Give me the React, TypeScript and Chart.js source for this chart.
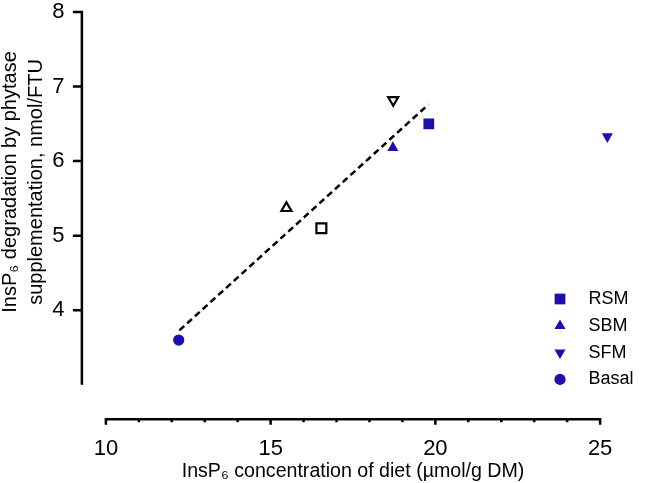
import React, { useEffect, useRef } from 'react';
import { Chart, registerables } from 'chart.js';

Chart.register(...registerables);

// ---------- data ----------
const GROUPS = ['RSM', 'SBM', 'SFM', 'Basal'];
const GROUP_DIET_INSP6 = [19.8, 18.71, 25.22, 12.21];
const GROUP_DEGRADATION = [6.5, 6.18, 6.33, 3.6];

const OPEN_GROUPS = ['RSM (open)', 'SBM (open)', 'SFM (open)'];
const OPEN_DIET_INSP6 = [16.54, 15.48, 18.72];
const OPEN_DEGRADATION = [5.1, 5.37, 6.82];

const FIT_X = [12.23, 19.79];
const FIT_Y = [3.73, 6.76];

const X_TICKS = [10, 11, 12, 13, 14, 15, 16, 17, 18, 19, 20, 21, 22, 23, 24, 25];
const X_LABELED = [10, 15, 20, 25];
const Y_TICKS = [4, 5, 6, 7, 8];

// ---------- style ----------
const FONT = "'Liberation Sans', Arial, Helvetica, sans-serif";
const BLUE = '#1d0fae';
const MARKER_STYLE = ['rect', 'triangle', 'triangle', 'circle'];
const MARKER_ROT = [0, 0, 180, 0];
const MARKER_R = [7.6, 6.4, 6.4, 5.6];

const X_MIN = 10;
const X_MAX = 25;
const X_VIEW_MIN = 9.7;
const X_VIEW_MAX = 25.3;
const Y_AXIS_MIN = 3;
const Y_AXIS_MAX = 8;
const Y_VIEW_MIN = 3.44;
const Y_AXIS_GAP = 24;
const X_AXIS_GAP = 34.5;
const AXIS_W = 2.5;
const Y_TICK_LEN = 9;
const X_MAJOR_LEN = 5.5;
const X_MINOR_LEN = 3;

function drawMarker(ctx: CanvasRenderingContext2D, style: string, rot: number, x: number, y: number, r: number) {
  ctx.beginPath();
  if (style === 'rect') {
    const s = r * Math.SQRT1_2;
    ctx.rect(x - s, y - s, 2 * s, 2 * s);
  } else if (style === 'circle') {
    ctx.arc(x, y, r, 0, Math.PI * 2);
  } else {
    let rad = (rot * Math.PI) / 180;
    for (let i = 0; i < 3; i++) {
      const px = x + Math.sin(rad) * r;
      const py = y - Math.cos(rad) * r;
      if (i === 0) ctx.moveTo(px, py);
      else ctx.lineTo(px, py);
      rad += (2 * Math.PI) / 3;
    }
    ctx.closePath();
  }
  ctx.fill();
}

const axesPlugin = {
  id: 'prismAxes',
  afterDraw(chart: any) {
    const { ctx, scales } = chart;
    const xs = scales.x;
    const ys = scales.y;
    const x0 = xs.getPixelForValue(X_MIN);
    const x1 = xs.getPixelForValue(X_MAX);
    const yAxisX = x0 - Y_AXIS_GAP;
    const yTop = ys.getPixelForValue(Y_AXIS_MAX);
    const yBot = ys.getPixelForValue(Y_AXIS_MIN);
    const xAxisY = yBot + X_AXIS_GAP;
    ctx.save();
    ctx.strokeStyle = '#000';
    ctx.lineWidth = AXIS_W;
    ctx.lineCap = 'butt';
    ctx.beginPath();
    ctx.moveTo(yAxisX, yTop - AXIS_W / 2);
    ctx.lineTo(yAxisX, yBot);
    Y_TICKS.forEach((v) => {
      const p = ys.getPixelForValue(v);
      ctx.moveTo(yAxisX + AXIS_W / 2, p);
      ctx.lineTo(yAxisX - Y_TICK_LEN, p);
    });
    ctx.moveTo(x0 - AXIS_W / 2, xAxisY);
    ctx.lineTo(x1 + AXIS_W / 2, xAxisY);
    X_TICKS.forEach((v) => {
      const p = xs.getPixelForValue(v);
      ctx.moveTo(p, xAxisY - AXIS_W / 2);
      ctx.lineTo(p, xAxisY + (X_LABELED.includes(v) ? X_MAJOR_LEN : X_MINOR_LEN));
    });
    ctx.stroke();
    ctx.restore();
  },
};

const LEGEND_MARKER_X = 560;
const LEGEND_TEXT_X = 588.5;
const LEGEND_TOP = 299;
const LEGEND_STEP = 26.8;

const legendPlugin = {
  id: 'prismLegend',
  afterDraw(chart: any) {
    const { ctx } = chart;
    ctx.save();
    ctx.font = `18px ${FONT}`;
    ctx.textBaseline = 'middle';
    ctx.textAlign = 'left';
    GROUPS.forEach((g, i) => {
      const y = LEGEND_TOP + i * LEGEND_STEP;
      ctx.fillStyle = BLUE;
      drawMarker(ctx, MARKER_STYLE[i], MARKER_ROT[i], LEGEND_MARKER_X, y, MARKER_R[i]);
      ctx.fillStyle = '#000';
      ctx.fillText(g, LEGEND_TEXT_X, y);
    });
    ctx.restore();
  },
};

function resetPadding(s: any) {
  s.paddingTop = 0;
  s.paddingBottom = 0;
  s.paddingLeft = 0;
  s.paddingRight = 0;
}

export default function App() {
  const ref = useRef<HTMLCanvasElement>(null);
  useEffect(() => {
    if (!ref.current) return;
    Chart.defaults.color = '#000';
    Chart.defaults.font.family = FONT;

    const filled = GROUPS.map((g, i) => ({
      label: g,
      data: [{ x: GROUP_DIET_INSP6[i], y: GROUP_DEGRADATION[i] }],
      pointStyle: MARKER_STYLE[i],
      pointRotation: MARKER_ROT[i],
      pointRadius: MARKER_R[i],
      backgroundColor: BLUE,
      borderColor: BLUE,
      borderWidth: 0,
      clip: false,
      order: 1,
    }));
    const open = OPEN_GROUPS.map((g, i) => ({
      label: g,
      data: [{ x: OPEN_DIET_INSP6[i], y: OPEN_DEGRADATION[i] }],
      pointStyle: MARKER_STYLE[i],
      pointRotation: MARKER_ROT[i],
      pointRadius: MARKER_R[i] - 0.6,
      backgroundColor: '#fff',
      borderColor: '#000',
      borderWidth: 2.2,
      clip: false,
      order: 1,
    }));
    const fit = {
      type: 'line' as const,
      label: 'Linear fit',
      data: FIT_X.map((x, i) => ({ x, y: FIT_Y[i] })),
      borderColor: '#000',
      borderWidth: 2.5,
      borderDash: [6.5, 4],
      pointRadius: 0,
      fill: false,
      showLine: true,
      clip: false,
      order: 2,
    };

    const chart = new Chart(ref.current, {
      type: 'scatter',
      data: { datasets: [...filled, ...open, fit] as any },
      options: {
        responsive: false,
        animation: false,
        devicePixelRatio: 1,
        layout: { padding: { top: 12, right: 47, left: 0, bottom: 0 } },
        plugins: { legend: { display: false }, tooltip: { enabled: false } },
        scales: {
          x: {
            type: 'linear',
            bounds: 'data',
            afterDataLimits: (s: any) => {
              s.min = X_VIEW_MIN;
              s.max = X_VIEW_MAX;
            },
            afterBuildTicks: (s: any) => {
              s.ticks = X_TICKS.map((v) => ({ value: v }));
            },
            afterFit: (s: any) => {
              s.height = 131;
              resetPadding(s);
            },
            grid: { display: false },
            border: { display: false },
            ticks: {
              autoSkip: false,
              maxRotation: 0,
              padding: 75.9,
              color: '#000',
              font: { size: 22, family: FONT, lineHeight: 1.2 },
              callback: (v: any) => (X_LABELED.includes(Number(v)) ? String(v) : ''),
            },
            title: {
              display: true,
              text: 'InsP₆ concentration of diet (µmol/g DM)',
              color: '#000',
              font: { size: 19.6, family: FONT },
              padding: 0,
            },
          },
          y: {
            type: 'linear',
            min: Y_VIEW_MIN,
            max: Y_AXIS_MAX,
            afterBuildTicks: (s: any) => {
              s.ticks = Y_TICKS.map((v) => ({ value: v }));
            },
            afterFit: (s: any) => {
              s.width = 96;
              resetPadding(s);
            },
            grid: { display: false },
            border: { display: false },
            ticks: {
              padding: 23.5,
              color: '#000',
              font: { size: 22, family: FONT, lineHeight: 1.1 },
            },
            title: {
              display: true,
              text: ['InsP₆ degradation by phytase', 'supplementation, nmol/FTU'],
              color: '#000',
              font: { size: 20, family: FONT, lineHeight: 1.3 },
              padding: { top: -3, bottom: 0 },
            },
          },
        },
      },
      plugins: [axesPlugin, legendPlugin],
    });
    return () => chart.destroy();
  }, []);

  return (
    <div style={{ position: 'fixed', left: 0, top: 0, width: 657, height: 483, background: '#fff' }}>
      <canvas ref={ref} width={657} height={483} style={{ display: 'block', width: 657, height: 483 }} />
    </div>
  );
}
